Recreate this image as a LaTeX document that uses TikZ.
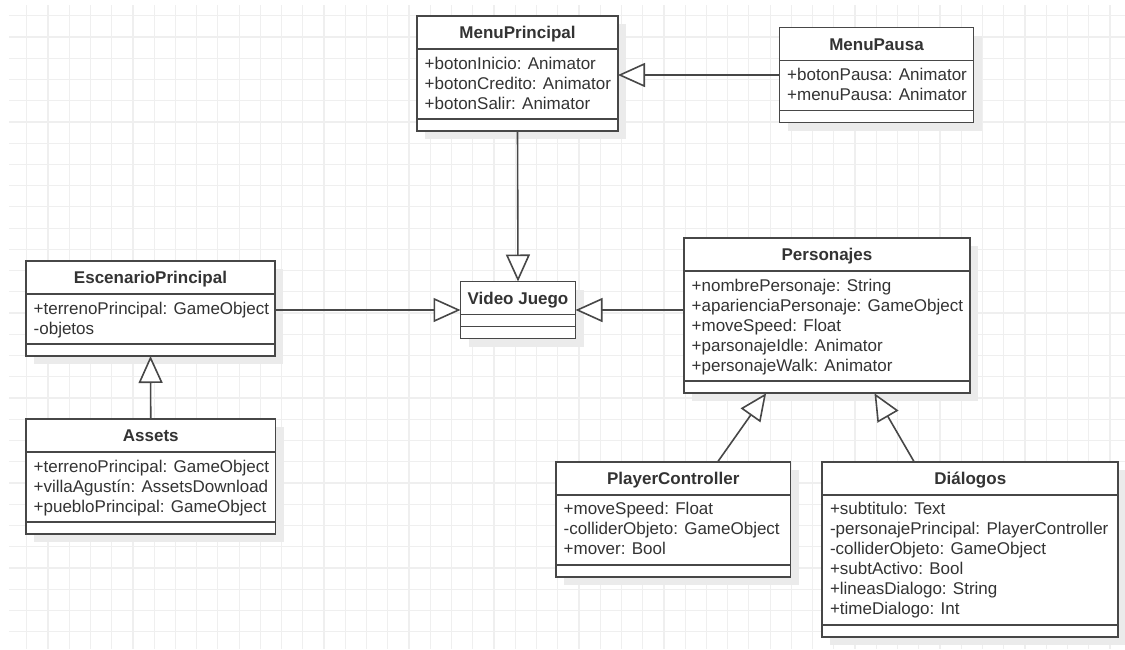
\documentclass[tikz,border=0pt]{standalone}
\usepackage{fontspec}
\setmainfont{Liberation Sans}
\usetikzlibrary{arrows.meta,calc}

\definecolor{gridline}{HTML}{EFEFEF}
\definecolor{boxline}{HTML}{474747}
\definecolor{ink}{HTML}{333333}
\definecolor{shadowgray}{HTML}{EBEBEB}

\tikzset{
  classbox/.style={draw=boxline, line width=1.8pt, fill=white, inner sep=0pt,
    outer sep=0pt, anchor=north west},
  rule/.style={draw=boxline, line width=1.8pt},
  classtitle/.style={anchor=base, inner sep=0pt, text=ink,
    font=\fontsize{17pt}{20pt}\selectfont\bfseries},
  attr/.style={anchor=base west, inner sep=0pt, text=ink,
    font=\fontsize{17pt}{20pt}\selectfont},
  inherit/.style={draw=boxline, line width=1.6pt,
    -{Triangle[length=27pt,width=24pt,fill=white,line width=1.6pt]}},
}

% #1 name, #2 left, #3 top, #4 width, #5 number of attributes, #6 title, #7 attributes
\newcommand\umlclass[7]{%
  \pgfmathsetmacro\attrH{ifthenelse(#5==0,12,10+20*#5)}%
  \pgfmathsetmacro\totH{33+\attrH+12}%
  \fill[shadowgray] (#2+8,#3+8) rectangle ++(#4,\totH);
  \node[classbox, minimum width=#4pt, minimum height=\totH pt] (#1) at (#2,#3) {};
  \draw[rule] (#2,#3+33) -- ++(#4,0);
  \draw[rule] (#2,#3+33+\attrH) -- ++(#4,0);
  \node[classtitle] (#1-t) at (#2+#4/2,#3+22.5) {#6};
  \ifnum#5>0
    \foreach \a [count=\i] in {#7}
      \node[attr] (#1-a\i) at (#2+7.5,#3+33+20+20*\i-20) {\a};
  \fi
}

\begin{document}
\begin{tikzpicture}[x=1pt,y=-1pt]
  \useasboundingbox (0,0) rectangle (1125,649);
  \fill[white] (0,0) rectangle (1125,649);

  % background grid
  \foreach \k in {0,...,51}
    \draw[gridline, line width=1.2pt] (26.7+21.24*\k,5) -- (26.7+21.24*\k,649);
  \foreach \k in {0,...,29}
    \draw[gridline, line width=1.2pt] (9,15.7+21.24*\k) -- (1125,15.7+21.24*\k);

  % classes
  \umlclass{mp}{417}{16}{201}{3}{MenuPrincipal}
    {+botonInicio: Animator,+botonCredito: Animator,+botonSalir: Animator}
  \umlclass{mpa}{779.5}{27.5}{194}{2}{MenuPausa}
    {+botonPausa: Animator,+menuPausa: Animator}
  \umlclass{esc}{26}{261}{249}{2}{EscenarioPrincipal}
    {+terrenoPrincipal: GameObject,-objetos}
  \umlclass{vj}{460.5}{281.5}{115}{0}{Video Juego}{}
  \umlclass{pers}{684}{238.3}{286}{5}{Personajes}
    {+nombrePersonaje: String,+aparienciaPersonaje: GameObject,+moveSpeed: Float,+parsonajeIdle: Animator,+personajeWalk: Animator}
  \umlclass{as}{26}{419.3}{249.5}{3}{Assets}
    {+terrenoPrincipal: GameObject,+villaAgustín: AssetsDownload,+puebloPrincipal: GameObject}
  \umlclass{pc}{556}{461.7}{234.5}{3}{PlayerController}
    {+moveSpeed: Float,-colliderObjeto: GameObject,+mover: Bool}
  \umlclass{dl}{822.3}{461.7}{296}{6}{Diálogos}
    {+subtitulo: Text,-personajePrincipal: PlayerController,-colliderObjeto: GameObject,+subtActivo: Bool,+lineasDialogo: String,+timeDialogo: Int}

  % generalizations
  \draw[inherit] (mpa.west) -- (mpa.west -| mp.east);
  \draw[inherit] (mp.south) -- (vj.north);
  \draw[inherit] (esc.east |- vj.west) -- (vj.west);
  \draw[inherit] (pers.west |- vj.east) -- (vj.east);
  \draw[inherit] (as.north) -- (esc.south);
  \draw[inherit] ($(pc.north west)!0.69!(pc.north east)$) -- ($(pers.south west)!0.287!(pers.south east)$);
  \draw[inherit] ($(dl.north west)!0.31!(dl.north east)$) -- ($(pers.south west)!0.666!(pers.south east)$);
\end{tikzpicture}
\end{document}
